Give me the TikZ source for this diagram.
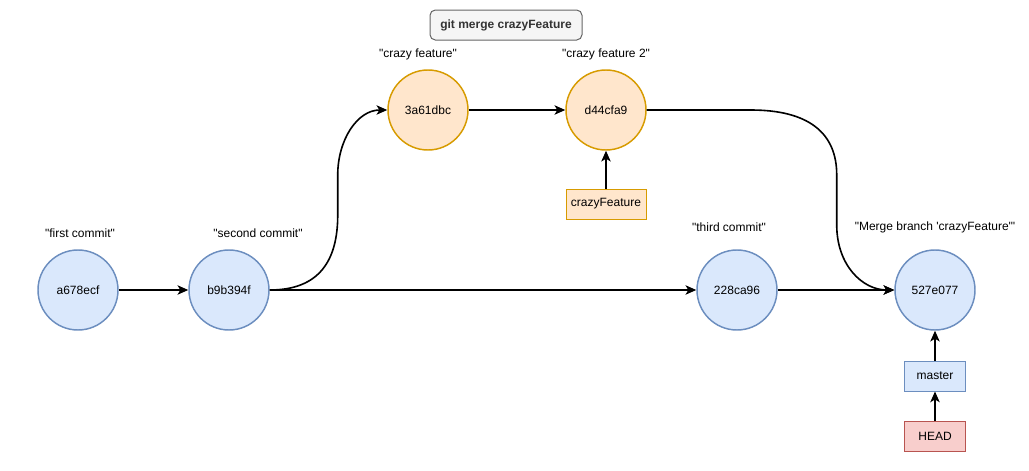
\documentclass[tikz,border=0pt]{standalone}
\usepackage{fontspec}
\setmainfont{Liberation Sans}[Ligatures=TeXOff]
\usepackage{tikz}
\usetikzlibrary{arrows.meta}
\definecolor{bluefill}{HTML}{DAE8FC}
\definecolor{bluedraw}{HTML}{6C8EBF}
\definecolor{orangefill}{HTML}{FFE6CC}
\definecolor{orangedraw}{HTML}{D79B00}
\definecolor{redfill}{HTML}{F8CECC}
\definecolor{reddraw}{HTML}{B85450}
\tikzset{
  commit/.style={circle, minimum size=60pt, inner sep=0pt, line width=1.1pt, font=\fontsize{9}{10}\selectfont},
  master commit/.style={commit, fill=bluefill, draw=bluedraw},
  feature commit/.style={commit, fill=orangefill, draw=orangedraw},
  refbox/.style={rectangle, minimum height=22.5pt, inner sep=0pt, line width=0.75pt, font=\fontsize{9}{10}\selectfont},
  msg/.style={font=\fontsize{9}{10}\selectfont, inner sep=0pt},
  link/.style={line width=1.2pt, -{Stealth[length=8pt,width=7pt,inset=2pt]}}
}

\begin{document}
\begin{tikzpicture}[x=0.75pt,y=-0.75pt]
  \useasboundingbox (0,0) rectangle (1029,471);
  % command
  \node[refbox, rounded corners=4pt, minimum width=114pt, fill=black!4, draw=black!60, text=black!80, font=\fontsize{9}{10}\selectfont\bfseries] (cmd) at (506,25) {git merge crazyFeature};
  % commits
  \node[master commit] (a678) at (78,290) {a678ecf};
  \node[master commit] (b9b3) at (229,290) {b9b394f};
  \node[feature commit] (3a61) at (428,110) {3a61dbc};
  \node[feature commit] (d44c) at (606,110) {d44cfa9};
  \node[master commit] (228c) at (737,290) {228ca96};
  \node[master commit] (527e) at (935,290) {527e077};
  % messages
  \node[msg] (m1) at (80,233) {"first commit"};
  \node[msg] (m2) at (258,233) {"second commit"};
  \node[msg] (m3) at (418,54) {"crazy feature"};
  \node[msg] (m4) at (606,54) {"crazy feature 2"};
  \node[msg] (m5) at (729,227) {"third commit"};
  \node[msg] (m6) at (935,227) {"Merge branch 'crazyFeature'"};
  % branches
  \node[refbox, minimum width=60pt, fill=orangefill, draw=orangedraw] (crazy) at (606,204) {crazyFeature};
  \node[refbox, minimum width=45.75pt, fill=bluefill, draw=bluedraw] (master) at (935,376) {master};
  \node[refbox, minimum width=45.75pt, fill=redfill, draw=reddraw] (head) at (935,436) {HEAD};
  % history
  \draw[link] (a678) -- (b9b3);
  \draw[link] (b9b3) -- (228c);
  \draw[link] (228c) -- (527e);
  \draw[link] (3a61) -- (d44c);
  \draw[link] (b9b3.east) .. controls +(50,0) and +(0,45) .. ++(68,-75)
    -- ++(0,-40) .. controls +(0,-35) and +(-30,0) .. (3a61.west);
  \draw[link] (d44c.east) -- ++(104,0) .. controls +(58,0) and +(0,-42) .. ++(86,65)
    -- ++(0,50) .. controls +(0,40) and +(-32,0) .. (527e.west);
  \draw[link] (crazy) -- (d44c);
  \draw[link] (master) -- (527e);
  \draw[link] (head) -- (master);
\end{tikzpicture}
\end{document}
